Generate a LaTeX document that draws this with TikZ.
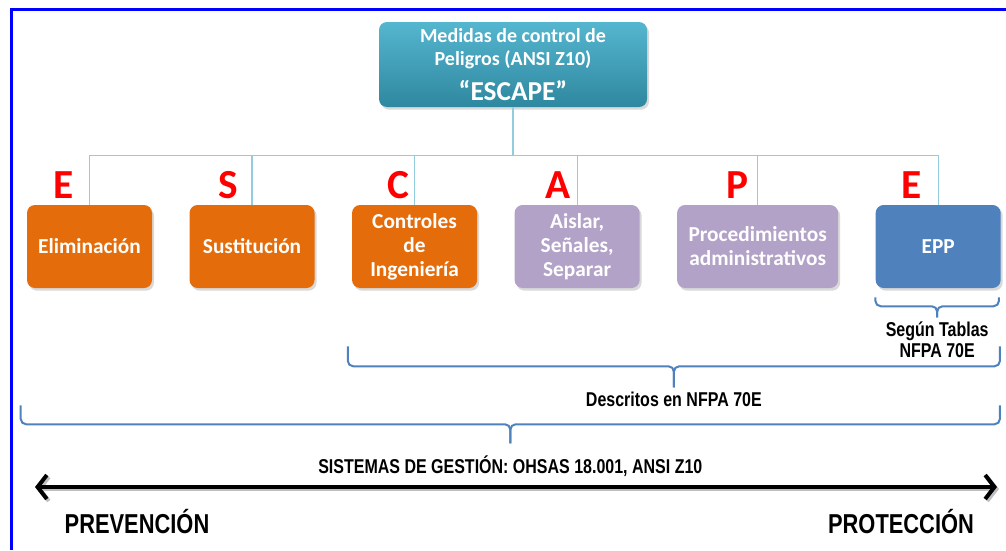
\documentclass[tikz,border=0pt]{standalone}
\usepackage{fontspec}
\setmainfont{Carlito}
\newfontfamily\labelfont[FakeStretch=0.8]{Liberation Sans}
\usetikzlibrary{arrows.meta,positioning,shadows,calc}
\definecolor{naranja}{HTML}{E46C0A}
\definecolor{lila}{HTML}{B3A2C7}
\definecolor{azul}{HTML}{4F81BD}
\definecolor{turq}{HTML}{55B6CF}
\definecolor{turqosc}{HTML}{2E889F}
\definecolor{linea}{HTML}{93CDDD}
\definecolor{marco}{HTML}{0000FF}

\begin{document}
\begin{tikzpicture}[
    x=0.75pt,y=0.75pt,
    node distance=27.75pt,
    box/.style={rounded corners=6pt,minimum width=93.75pt,minimum height=62.25pt,align=center,text=white,inner sep=2pt,
      font=\fontsize{16}{18}\selectfont\bfseries,drop shadow={opacity=0.3,shadow xshift=1.5pt,shadow yshift=-2pt}},
    orangebox/.style={box,fill=naranja},
    purplebox/.style={box,fill=lila},
    bluebox/.style={box,fill=azul},
    topbox/.style={box,top color=turq,bottom color=turqosc,minimum width=201pt,minimum height=63.75pt,
      font=\fontsize{15}{17.25}\selectfont\bfseries},
    letter/.style={text=red,font=\fontsize{31}{31}\selectfont\bfseries,inner sep=0pt},
    link/.style={draw=linea,line width=0.9pt},
    bracket/.style={draw=azul,line width=1.5pt,rounded corners=4pt},
    note/.style={font=\labelfont\bfseries\fontsize{15}{15.75}\selectfont,align=center,inner sep=0pt},
    bignote/.style={font=\labelfont\bfseries\fontsize{20.5}{22}\selectfont,inner sep=0pt},
    axis/.style={line width=3pt,{Straight Barb[length=7pt,width=18pt]}-{Straight Barb[length=7pt,width=18pt]}}
  ]
    \useasboundingbox (0,0) rectangle (1006,-550);
    % frame
    \draw[marco,line width=2.25pt] (1006,-9) -| (11,-550);

    % top box
    \node[topbox] (escape) at (513,-64.5) {Medidas de control de\\Peligros (ANSI Z10)\\[8pt]{\fontsize{20.5}{22}\selectfont “ESCAPE”}};

    % measures
    \node[orangebox] (elim) at (89.5,-246.5) {Eliminación};
    \node[orangebox,right=of elim] (sust) {Sustitución};
    \node[orangebox,right=of sust] (ctrl) {Controles\\de\\Ingeniería};
    \node[purplebox,right=of ctrl] (aislar) {Aislar,\\Señales,\\Separar};
    \node[purplebox,right=of aislar,minimum width=120.75pt] (proc) {Procedimientos\\administrativos};
    \node[bluebox,right=of proc] (epp) {EPP};

    % tree lines
    \coordinate (bus) at ($(escape.south)+(0,-48)$);
    \draw[link] (escape) -- (bus);
    \foreach \n in {elim,sust,ctrl,aislar,proc,epp}
      \draw[link] (bus) -| (\n.north);

    % letters
    \foreach \n/\l/\gap in {elim/E/12,sust/S/10,ctrl/C/4,aislar/A/4.5,proc/P/6.5,epp/E/12.5}
      \node[letter,above left=4.5pt and \gap pt of \n.north] (l-\n) {\l};

    % braces
    \coordinate (eppL) at ($(epp.south west)+(0,-9)$);
    \coordinate (eppR) at ($(epp.south east)+(-2,-9)$);
    \draw[bracket] (eppL) |- ($(eppL)!0.5!(eppR)+(0,-9)$) coordinate (eppM) -- ++(0,-11) coordinate (eppTip);
    \draw[bracket] (eppR) |- (eppM) -- (eppTip);
    \node[note,below=3pt of eppTip] (tablas) {Según Tablas\\NFPA 70E};

    \coordinate (descL) at ($(ctrl.south west)+(-4,-58)$);
    \coordinate (descR) at ($(epp.south east)+(-1,-58)$);
    \draw[bracket] (descL) |- ($(descL)!0.5!(descR)+(0,-20)$) coordinate (descM) -- ++(0,-21) coordinate (descTip);
    \draw[bracket] (descR) |- (descM) -- (descTip);
    \node[note,below=3pt of descTip] (descritos) {Descritos en NFPA 70E};

    \coordinate (gestL) at ($(elim.south west)+(-6,-117)$);
    \coordinate (gestR) at ($(epp.south east)+(-1,-117)$);
    \draw[bracket] (gestL) |- ($(gestL)!0.5!(gestR)+(0,-19)$) coordinate (gestM) -- ++(0,-19) coordinate (gestTip);
    \draw[bracket] (gestR) |- (gestM) -- (gestTip);
    \node[note,below=9pt of gestTip] (gestion) {SISTEMAS DE GESTIÓN: OHSAS 18.001, ANSI Z10};

    % axis
    \coordinate (izq) at (35,-487);
    \coordinate (der) at (997,-487);
    \draw[axis,black!25,transform canvas={xshift=1.5pt,yshift=-1.5pt}] (izq) -- (der);
    \draw[axis] (izq) -- (der);
    \node[bignote] (prev) at (137,-522) {PREVENCIÓN};
    \node[bignote] (prot) at (901,-522) {PROTECCIÓN};
\end{tikzpicture}
\end{document}
